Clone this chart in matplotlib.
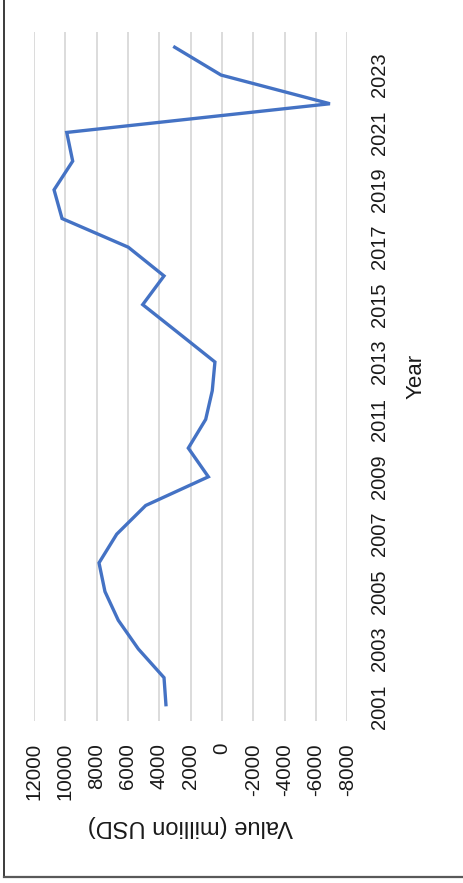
import numpy as np
import matplotlib
matplotlib.use("Agg")
import matplotlib.pyplot as plt
from matplotlib.lines import Line2D

plt.rcParams["font.family"] = ["Liberation Sans", "DejaVu Sans"]

# Annual values, million USD
years = list(range(2001, 2025))
values = [3570, 3700, 5340, 6620, 7470, 7850, 6720, 4870, 870, 2150,
          1040, 620, 450, 2750, 5060, 3700, 5980, 10210, 10720, 9530,
          9910, -6890, 60, 3110]
value_ticks = [12000, 10000, 8000, 6000, 4000, 2000, 0,
               -2000, -4000, -6000, -8000]

W, H = 464, 883
fig = plt.figure(figsize=(W / 100, H / 100), dpi=100)

# plot area in pixels: left, right, top, bottom
px_l, px_r, px_t, px_b = 34, 347.3, 32, 720.7
ax = fig.add_axes([px_l / W, 1 - px_b / H, (px_r - px_l) / W, (px_b - px_t) / H])

idx = np.arange(len(years))
# chart is laid out sideways: values run along x (reversed), years up the y axis
ax.plot(values, idx, color="#4472C4", linewidth=2.4, solid_joinstyle="miter",
        solid_capstyle="butt")

ax.set_xlim(12000, -8000)
ax.set_ylim(-0.5, len(years) - 0.5)
ax.set_xticks(value_ticks)
ax.set_xticklabels([str(v) for v in value_ticks])
ax.set_yticks(idx[::2])
ax.set_yticklabels([str(y) for y in years[::2]])

ax.grid(axis="x", color="#d9d9d9", linewidth=1.3)
ax.set_axisbelow(True)
for s in ax.spines.values():
    s.set_visible(False)

ax.yaxis.tick_right()
ax.tick_params(axis="y", length=0, pad=16.5, labelrotation=90,
               labelsize=14.5, labelcolor="#1a1a1a")
ax.tick_params(axis="x", length=0, pad=16, labelrotation=90,
               labelsize=14.8, labelcolor="#1a1a1a")
for lbl in ax.get_yticklabels():
    lbl.set_verticalalignment("center")

ax.yaxis.set_label_position("right")
ax.set_ylabel("Year", fontsize=16, color="#1a1a1a", rotation=90)
ax.yaxis.label.set_verticalalignment("center")
ax.yaxis.label.set_horizontalalignment("center")
ax.yaxis.set_label_coords((416 - px_l) / (px_r - px_l), 0.5)

ax.set_xlabel("Value (million USD)", fontsize=17, color="#1a1a1a", rotation=180)
ax.xaxis.label.set_verticalalignment("center")
ax.xaxis.label.set_horizontalalignment("center")
ax.xaxis.set_label_coords((190 - px_l) / (px_r - px_l),
                          -(826 - px_b) / (px_b - px_t))

# chart border (only the left and bottom edges are in frame)
border_y = 1 - 877.3 / H
fig.add_artist(Line2D([4.3 / W, 4.3 / W], [border_y, 1],
                      transform=fig.transFigure, color="#1a1a1a", linewidth=1.2))
fig.add_artist(Line2D([4.3 / W, 1], [border_y, border_y],
                      transform=fig.transFigure, color="#595959", linewidth=1.6))

fig.savefig("out.png", dpi=100)
